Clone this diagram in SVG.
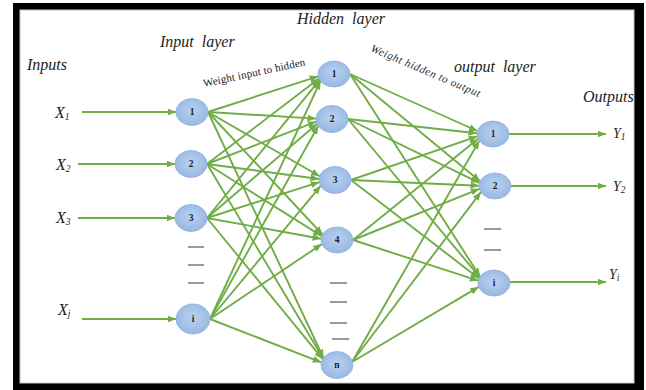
<svg xmlns="http://www.w3.org/2000/svg" width="646" height="390" viewBox="0 0 646 390">
<style>
.lbl{font-family:"Liberation Serif","Times New Roman",serif;font-style:italic;fill:#222;}
.hdr{font-size:16px;}
.xl{font-size:16px;}
.sub{font-size:9.5px;}
.num{font-family:"Liberation Serif","Times New Roman",serif;font-weight:bold;font-size:9.5px;fill:#1a1a2e;text-anchor:middle;}
.node{fill:url(#ng);stroke:#8eaedb;stroke-width:0.8;}
.edge{stroke:#70ad47;stroke-width:1.9;fill:none;marker-end:url(#ah);}
.dash{stroke:#555;stroke-width:1.2;}
</style>
<defs>
<radialGradient id="ng" cx="50%" cy="45%" r="60%">
<stop offset="0" stop-color="#b9d1ef"/>
<stop offset="1" stop-color="#94b6e2"/>
</radialGradient>
<marker id="ah" markerUnits="userSpaceOnUse" markerWidth="9" markerHeight="8" refX="8.5" refY="4" orient="auto">
<path d="M0,0.5 L8.5,4 L0,7.5 z" fill="#70ad47"/>
</marker>
</defs>
<rect x="0" y="0" width="646" height="390" fill="#fff"/>
<rect x="13" y="3" width="631" height="387" fill="#000"/>
<rect x="20" y="10" width="614" height="373" fill="#fff" stroke="#c8c8c8" stroke-width="1"/>

<g id="labels">
<text class="lbl hdr" x="27" y="70">Inputs</text>
<text class="lbl hdr" x="160" y="47" xml:space="preserve">Input  layer</text>
<text class="lbl hdr" x="297" y="24" xml:space="preserve">Hidden  layer</text>
<text class="lbl hdr" x="454" y="72" xml:space="preserve">output  layer</text>
<text class="lbl hdr" x="583" y="102">Outputs</text>
<text font-family="'Liberation Serif','Times New Roman',serif" font-size="11" fill="#222" transform="translate(204,87) rotate(-12)" textLength="104">Weight input to hidden</text>
<text class="lbl" font-size="11" transform="translate(370,51) rotate(23)" textLength="118">Weight hidden to output</text>
<text class="lbl xl" x="55" y="118">X<tspan class="sub" dy="2">1</tspan></text>
<text class="lbl xl" x="56" y="170">X<tspan class="sub" dy="2">2</tspan></text>
<text class="lbl xl" x="56" y="223">X<tspan class="sub" dy="2">3</tspan></text>
<text class="lbl xl" x="58" y="315">X<tspan class="sub" dy="2">j</tspan></text>
<text class="lbl" font-size="14" x="613" y="138">Y<tspan class="sub" dy="2">1</tspan></text>
<text class="lbl" font-size="14" x="613" y="191">Y<tspan class="sub" dy="2">2</tspan></text>
<text class="lbl" font-size="14" x="609" y="279">Y<tspan class="sub" dy="2">i</tspan></text>
</g>

<g id="dashes">
<line class="dash" x1="188" y1="247" x2="204" y2="247"/>
<line class="dash" x1="188" y1="265" x2="204" y2="265"/>
<line class="dash" x1="188" y1="283" x2="204" y2="283"/>
<line class="dash" x1="330" y1="283" x2="347" y2="283"/>
<line class="dash" x1="330" y1="302" x2="347" y2="302"/>
<line class="dash" x1="330" y1="323" x2="347" y2="323"/>
<line class="dash" x1="332" y1="339" x2="349" y2="339"/>
<line class="dash" x1="484" y1="229" x2="501" y2="229"/>
<line class="dash" x1="484" y1="250" x2="501" y2="250"/>
</g>

<g id="connectors">
<line class="edge" x1="82" y1="112" x2="176" y2="112"/>
<line class="edge" x1="78" y1="164" x2="175" y2="164"/>
<line class="edge" x1="78" y1="218" x2="175" y2="218"/>
<line class="edge" x1="82" y1="319" x2="176" y2="319"/>

<line class="edge" x1="208" y1="112" x2="318.2" y2="76.3"/>
<line class="edge" x1="208" y1="112" x2="316" y2="118.6"/>
<line class="edge" x1="208" y1="112" x2="319.7" y2="176.3"/>
<line class="edge" x1="208" y1="112" x2="322.5" y2="234.5"/>
<line class="edge" x1="208" y1="112" x2="323.5" y2="358"/>

<line class="edge" x1="207" y1="164" x2="319" y2="78.5"/>
<line class="edge" x1="207" y1="164" x2="316.3" y2="121.6"/>
<line class="edge" x1="207" y1="164" x2="319" y2="179"/>
<line class="edge" x1="207" y1="164" x2="321.8" y2="236.1"/>
<line class="edge" x1="207" y1="164" x2="323.2" y2="358.5"/>

<line class="edge" x1="207" y1="218" x2="319.7" y2="79.9"/>
<line class="edge" x1="207" y1="218" x2="317.2" y2="123.8"/>
<line class="edge" x1="207" y1="218" x2="319.2" y2="182.2"/>
<line class="edge" x1="207" y1="218" x2="321.1" y2="238.7"/>
<line class="edge" x1="207" y1="218" x2="322.7" y2="359.2"/>

<line class="edge" x1="210" y1="319" x2="320.5" y2="81"/>
<line class="edge" x1="210" y1="319" x2="318.3" y2="125.7"/>
<line class="edge" x1="210" y1="319" x2="320.7" y2="185.8"/>
<line class="edge" x1="210" y1="319" x2="321.8" y2="244.1"/>
<line class="edge" x1="210" y1="319" x2="321.3" y2="362.3"/>

<line class="edge" x1="350" y1="74" x2="477.4" y2="131"/>
<line class="edge" x1="350" y1="74" x2="480.1" y2="181.2"/>
<line class="edge" x1="350" y1="74" x2="480.1" y2="276.6"/>

<line class="edge" x1="348" y1="119" x2="477" y2="133.2"/>
<line class="edge" x1="348" y1="119" x2="479.5" y2="182.8"/>
<line class="edge" x1="348" y1="119" x2="479.7" y2="277.2"/>

<line class="edge" x1="351" y1="180" x2="477.3" y2="136.4"/>
<line class="edge" x1="351" y1="180" x2="479" y2="185.7"/>
<line class="edge" x1="351" y1="180" x2="479" y2="278.4"/>

<line class="edge" x1="353" y1="240" x2="478.1" y2="138.7"/>
<line class="edge" x1="353" y1="240" x2="479.4" y2="188.8"/>
<line class="edge" x1="353" y1="240" x2="478.3" y2="280.7"/>

<line class="edge" x1="352" y1="362" x2="479.3" y2="140.7"/>
<line class="edge" x1="352" y1="362" x2="480.9" y2="192.1"/>
<line class="edge" x1="352" y1="362" x2="478.7" y2="286.9"/>

<line class="edge" x1="509" y1="134" x2="606" y2="134"/>
<line class="edge" x1="511" y1="186" x2="606" y2="186"/>
<line class="edge" x1="510" y1="282" x2="606" y2="282"/>
</g>

<g id="in1"><ellipse class="node" cx="192" cy="112" rx="16" ry="13.5"/><text class="num" x="192" y="115">1</text></g>
<g id="in2"><ellipse class="node" cx="191" cy="164" rx="16" ry="13.5"/><text class="num" x="191" y="167">2</text></g>
<g id="in3"><ellipse class="node" cx="191" cy="218" rx="16" ry="13.5"/><text class="num" x="191" y="221">3</text></g>
<g id="ini"><ellipse class="node" cx="193" cy="319" rx="17" ry="15"/><text class="num" x="193" y="322">i</text></g>

<g id="h1"><ellipse class="node" cx="334" cy="74" rx="16" ry="13"/><text class="num" x="334" y="77">1</text></g>
<g id="h2"><ellipse class="node" cx="332" cy="119" rx="16" ry="13.5"/><text class="num" x="332" y="122">2</text></g>
<g id="h3"><ellipse class="node" cx="335" cy="180" rx="16" ry="13.5"/><text class="num" x="335" y="183">3</text></g>
<g id="h4"><ellipse class="node" cx="337" cy="240" rx="16" ry="13"/><text class="num" x="337" y="243">4</text></g>
<g id="hn"><ellipse class="node" cx="337" cy="365" rx="16" ry="13.5"/><text class="num" x="337" y="368">n</text></g>

<g id="o1"><ellipse class="node" cx="493" cy="134" rx="16" ry="13"/><text class="num" x="493" y="137">1</text></g>
<g id="o2"><ellipse class="node" cx="495" cy="186" rx="16" ry="13"/><text class="num" x="495" y="189">2</text></g>
<g id="oi"><ellipse class="node" cx="494" cy="283" rx="16" ry="13"/><text class="num" x="494" y="286">i</text></g>
</svg>
